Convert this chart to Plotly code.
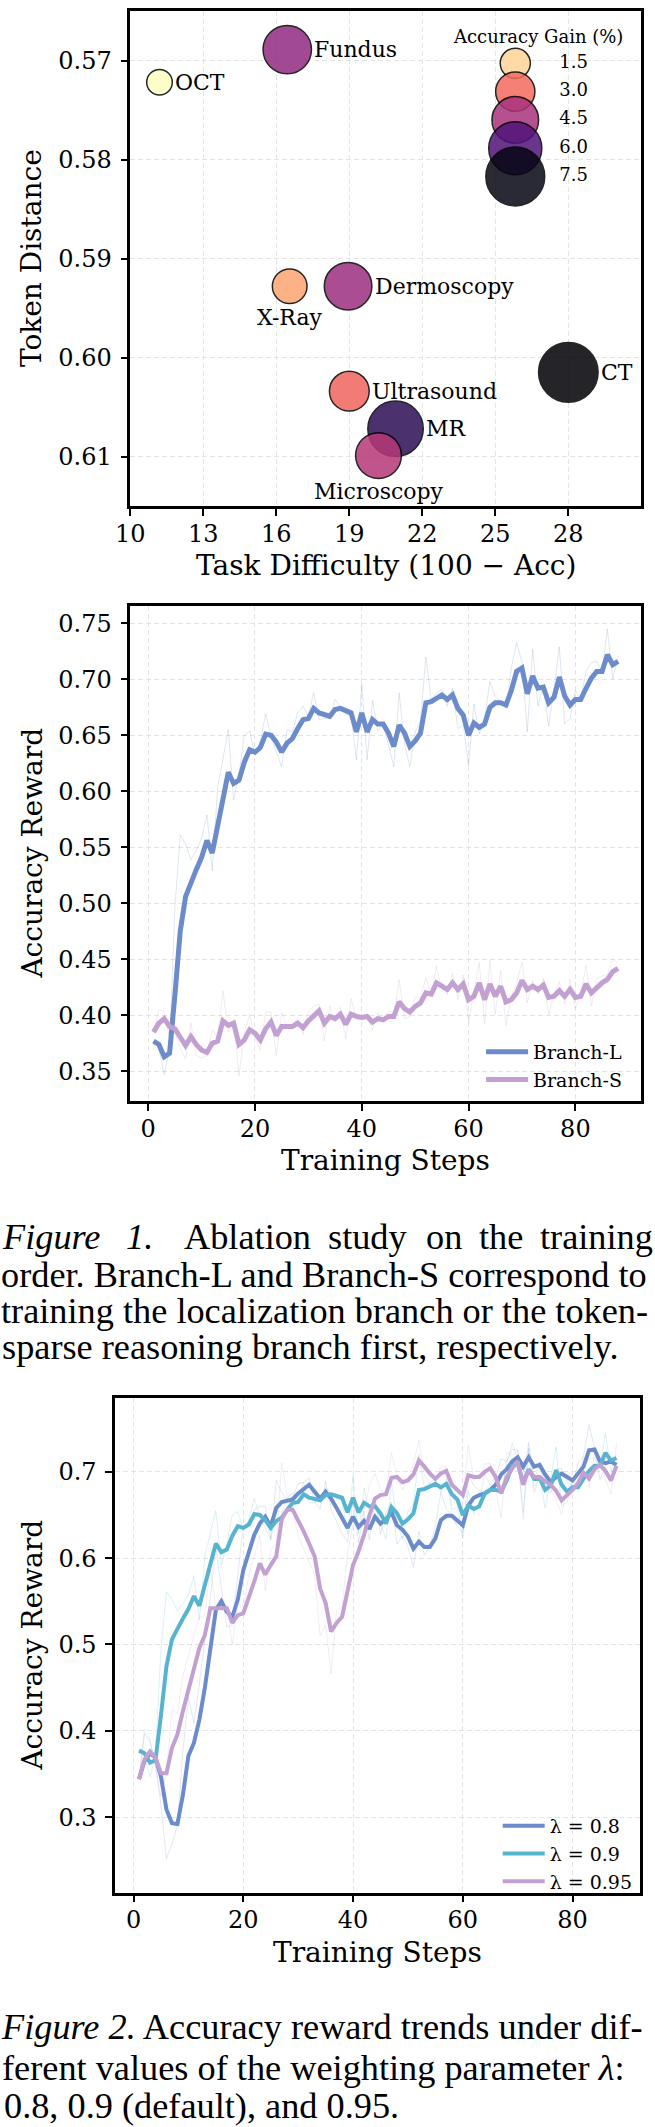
import plotly.graph_objects as go

W, H = 655, 2127

# ---------------- Chart A: modality bubble chart ----------------
modalities = ["OCT", "Fundus", "X-Ray", "Dermoscopy", "CT", "Ultrasound", "MR", "Microscopy"]
task_difficulty = [11.2, 16.45, 16.55, 18.95, 28.0, 19.0, 20.9, 20.2]
token_distance = [0.5722, 0.5689, 0.5928, 0.5928, 0.6015, 0.6034, 0.6072, 0.6099]
accuracy_gain = [0.9, 4.9, 2.2, 4.7, 7.7, 3.1, 6.6, 4.3]
label_side = ["right", "right", "below", "right", "right", "right", "right", "below"]
legend_gain = [1.5, 3.0, 4.5, 6.0, 7.5]
legend_gain_text = ["1.5", "3.0", "4.5", "6.0", "7.5"]
xticks_a = [10, 13, 16, 19, 22, 25, 28]
yticks_a = [0.57, 0.58, 0.59, 0.60, 0.61]
yticks_a_text = ["0.57", "0.58", "0.59", "0.60", "0.61"]

# ---------------- Chart B: training order ablation ----------------
steps = list(range(1, 89))
branch_l_smooth = [0.377, 0.374, 0.363, 0.366, 0.418, 0.475, 0.506, 0.519, 0.530, 0.541,
                   0.556, 0.545, 0.568, 0.592, 0.617, 0.607, 0.610, 0.626, 0.637, 0.635,
                   0.639, 0.651, 0.650, 0.644, 0.635, 0.643, 0.647, 0.656, 0.664, 0.665,
                   0.674, 0.670, 0.668, 0.667, 0.673, 0.674, 0.672, 0.670, 0.653, 0.670,
                   0.653, 0.664, 0.660, 0.660, 0.652, 0.640, 0.659, 0.652, 0.640, 0.645,
                   0.652, 0.679, 0.680, 0.683, 0.686, 0.682, 0.686, 0.674, 0.668, 0.650,
                   0.661, 0.657, 0.660, 0.675, 0.679, 0.679, 0.677, 0.690, 0.707, 0.710,
                   0.687, 0.703, 0.692, 0.693, 0.679, 0.684, 0.702, 0.685, 0.677, 0.682,
                   0.682, 0.692, 0.701, 0.707, 0.707, 0.722, 0.713, 0.716]
branch_l_raw = [0.377, 0.370, 0.347, 0.371, 0.496, 0.561, 0.553, 0.539, 0.547, 0.558,
                0.579, 0.529, 0.603, 0.628, 0.655, 0.592, 0.615, 0.650, 0.654, 0.632,
                0.645, 0.669, 0.649, 0.635, 0.622, 0.655, 0.653, 0.670, 0.676, 0.667,
                0.688, 0.664, 0.665, 0.666, 0.682, 0.676, 0.669, 0.667, 0.628, 0.696,
                0.628, 0.681, 0.654, 0.660, 0.640, 0.622, 0.688, 0.642, 0.622, 0.653,
                0.663, 0.720, 0.682, 0.688, 0.691, 0.676, 0.692, 0.656, 0.659, 0.623,
                0.678, 0.651, 0.665, 0.698, 0.685, 0.679, 0.674, 0.710, 0.733, 0.715,
                0.653, 0.727, 0.676, 0.695, 0.658, 0.692, 0.729, 0.660, 0.665, 0.690,
                0.682, 0.707, 0.715, 0.716, 0.707, 0.745, 0.700, 0.721]
branch_s_smooth = [0.385, 0.393, 0.397, 0.390, 0.388, 0.381, 0.373, 0.381, 0.374, 0.369,
                   0.367, 0.375, 0.377, 0.395, 0.391, 0.393, 0.374, 0.378, 0.387, 0.384,
                   0.378, 0.388, 0.394, 0.382, 0.390, 0.390, 0.390, 0.393, 0.389, 0.395,
                   0.400, 0.404, 0.393, 0.399, 0.397, 0.401, 0.392, 0.401, 0.399, 0.398,
                   0.399, 0.394, 0.397, 0.396, 0.399, 0.399, 0.412, 0.406, 0.403, 0.408,
                   0.411, 0.420, 0.419, 0.429, 0.426, 0.423, 0.429, 0.423, 0.428, 0.414,
                   0.417, 0.429, 0.414, 0.428, 0.417, 0.426, 0.412, 0.414, 0.420, 0.431,
                   0.423, 0.426, 0.423, 0.427, 0.416, 0.417, 0.422, 0.417, 0.423, 0.416,
                   0.417, 0.428, 0.420, 0.425, 0.429, 0.432, 0.439, 0.442]
branch_s_raw = [0.385, 0.405, 0.403, 0.380, 0.385, 0.371, 0.361, 0.393, 0.364, 0.362,
                0.364, 0.387, 0.380, 0.422, 0.385, 0.396, 0.346, 0.384, 0.401, 0.380,
                0.369, 0.403, 0.403, 0.364, 0.402, 0.390, 0.390, 0.398, 0.383, 0.404,
                0.408, 0.410, 0.377, 0.408, 0.394, 0.407, 0.379, 0.415, 0.396, 0.397,
                0.401, 0.387, 0.402, 0.395, 0.404, 0.399, 0.432, 0.397, 0.399, 0.416,
                0.416, 0.434, 0.418, 0.444, 0.422, 0.419, 0.438, 0.414, 0.436, 0.393,
                0.422, 0.447, 0.392, 0.449, 0.401, 0.440, 0.391, 0.417, 0.429, 0.448,
                0.411, 0.431, 0.419, 0.433, 0.400, 0.419, 0.430, 0.410, 0.432, 0.406,
                0.419, 0.445, 0.408, 0.433, 0.435, 0.437, 0.450, 0.447]
xticks_b = [0, 20, 40, 60, 80]
yticks_b = [0.35, 0.40, 0.45, 0.50, 0.55, 0.60, 0.65, 0.70, 0.75]
yticks_b_text = ["0.35", "0.40", "0.45", "0.50", "0.55", "0.60", "0.65", "0.70", "0.75"]

# ---------------- Chart C: lambda sweep ----------------
lam08_smooth = [0.344, 0.365, 0.374, 0.369, 0.347, 0.309, 0.293, 0.292, 0.326, 0.371,
                0.386, 0.413, 0.450, 0.492, 0.540, 0.550, 0.538, 0.532, 0.552, 0.586,
                0.608, 0.627, 0.640, 0.648, 0.637, 0.658, 0.665, 0.666, 0.668, 0.675,
                0.680, 0.685, 0.677, 0.669, 0.677, 0.669, 0.658, 0.646, 0.635, 0.648,
                0.636, 0.643, 0.634, 0.648, 0.640, 0.645, 0.653, 0.638, 0.633, 0.625,
                0.611, 0.619, 0.613, 0.613, 0.623, 0.644, 0.649, 0.649, 0.644, 0.638,
                0.661, 0.670, 0.673, 0.675, 0.679, 0.685, 0.697, 0.703, 0.712, 0.717,
                0.706, 0.717, 0.706, 0.708, 0.697, 0.688, 0.694, 0.698, 0.694, 0.690,
                0.698, 0.706, 0.725, 0.726, 0.712, 0.710, 0.712, 0.708]
lam08_raw = [0.344, 0.397, 0.388, 0.362, 0.314, 0.252, 0.269, 0.291, 0.377, 0.439,
             0.409, 0.454, 0.506, 0.555, 0.612, 0.565, 0.520, 0.523, 0.582, 0.637,
             0.641, 0.656, 0.660, 0.660, 0.621, 0.690, 0.676, 0.668, 0.671, 0.686,
             0.688, 0.693, 0.665, 0.657, 0.689, 0.657, 0.642, 0.628, 0.619, 0.668,
             0.618, 0.654, 0.621, 0.669, 0.628, 0.653, 0.665, 0.616, 0.626, 0.613,
             0.590, 0.631, 0.604, 0.613, 0.638, 0.676, 0.657, 0.649, 0.637, 0.629,
             0.696, 0.684, 0.678, 0.678, 0.685, 0.694, 0.715, 0.712, 0.726, 0.725,
             0.690, 0.734, 0.690, 0.711, 0.681, 0.675, 0.703, 0.704, 0.688, 0.684,
             0.710, 0.718, 0.754, 0.728, 0.691, 0.707, 0.715, 0.702]
# lambda = 0.9 is the default run (same curve as Branch-L)
lam09_smooth = list(branch_l_smooth)
lam09_raw = list(branch_l_raw)
lam095_smooth = [0.344, 0.367, 0.376, 0.369, 0.351, 0.351, 0.380, 0.396, 0.423, 0.448,
                 0.473, 0.496, 0.511, 0.542, 0.542, 0.542, 0.542, 0.525, 0.534, 0.536,
                 0.554, 0.573, 0.594, 0.581, 0.592, 0.602, 0.645, 0.656, 0.656, 0.644,
                 0.631, 0.617, 0.602, 0.565, 0.548, 0.515, 0.525, 0.532, 0.561, 0.592,
                 0.608, 0.627, 0.650, 0.669, 0.673, 0.674, 0.693, 0.694, 0.688, 0.690,
                 0.697, 0.713, 0.706, 0.698, 0.692, 0.698, 0.701, 0.685, 0.679, 0.673,
                 0.696, 0.694, 0.694, 0.700, 0.704, 0.694, 0.675, 0.694, 0.704, 0.712,
                 0.685, 0.702, 0.694, 0.694, 0.689, 0.685, 0.678, 0.667, 0.673, 0.679,
                 0.687, 0.699, 0.692, 0.703, 0.708, 0.701, 0.690, 0.707]
lam095_raw = [0.344, 0.402, 0.390, 0.359, 0.324, 0.351, 0.424, 0.420, 0.464, 0.486,
              0.511, 0.531, 0.534, 0.589, 0.542, 0.542, 0.542, 0.500, 0.548, 0.539,
              0.581, 0.602, 0.626, 0.562, 0.609, 0.617, 0.710, 0.673, 0.656, 0.626,
              0.612, 0.596, 0.580, 0.510, 0.523, 0.466, 0.540, 0.543, 0.605, 0.639,
              0.632, 0.656, 0.685, 0.698, 0.679, 0.676, 0.722, 0.696, 0.679, 0.693,
              0.708, 0.737, 0.696, 0.686, 0.683, 0.707, 0.706, 0.661, 0.670, 0.664,
              0.731, 0.691, 0.694, 0.709, 0.710, 0.679, 0.647, 0.723, 0.719, 0.724,
              0.645, 0.728, 0.682, 0.694, 0.682, 0.679, 0.668, 0.651, 0.682, 0.688,
              0.699, 0.717, 0.682, 0.720, 0.716, 0.691, 0.674, 0.733]
yticks_c = [0.3, 0.4, 0.5, 0.6, 0.7]
yticks_c_text = ["0.3", "0.4", "0.5", "0.6", "0.7"]

# ---------------- styles ----------------
SERIF = "DejaVu Serif"
TIMES = "Liberation Serif"
CAP = 36.3
BLUE = (107, 139, 203)
CYAN = (86, 180, 207)
LAV = (195, 160, 210)


def rgba(c, a):
    return "rgba(%d,%d,%d,%.2f)" % (c[0], c[1], c[2], a)


def bubble_size(g):
    return (440.0 * g + 340.0) ** 0.5 - 1.5


def px_x(x):
    return x / W


def px_y(y):
    return 1 - y / H


cmin, cmax = min(accuracy_gain), max(accuracy_gain)

fig = go.Figure()

# Chart A bubbles
fig.add_trace(go.Scatter(
    x=task_difficulty, y=token_distance, mode="markers",
    marker=dict(size=[bubble_size(g) for g in accuracy_gain], color=accuracy_gain,
                colorscale="Magma", reversescale=True, cmin=cmin, cmax=cmax,
                opacity=0.85, line=dict(color="black", width=1.5)),
    showlegend=False, xaxis="x", yaxis="y", cliponaxis=False))

# Chart A size legend (drawn on an overlay pixel-space axis)
leg_x = [394] * len(legend_gain)
leg_y = [52.3 + 28.3 * i for i in range(len(legend_gain))]
fig.add_trace(go.Scatter(
    x=leg_x, y=leg_y, mode="markers",
    marker=dict(size=[bubble_size(g) for g in legend_gain], color=legend_gain,
                colorscale="Magma", reversescale=True, cmin=cmin, cmax=cmax,
                opacity=0.85, line=dict(color="black", width=1.5)),
    showlegend=False, xaxis="x4", yaxis="y4", hoverinfo="skip", cliponaxis=False))
fig.add_trace(go.Scatter(
    x=[439] * len(legend_gain), y=leg_y, mode="text", text=legend_gain_text,
    textposition="middle right", textfont=dict(family=SERIF, size=18, color="black"),
    showlegend=False, xaxis="x4", yaxis="y4", hoverinfo="skip", cliponaxis=False))

# Chart B
for raw, smooth, col, name in [(branch_l_raw, branch_l_smooth, BLUE, "Branch-L"),
                               (branch_s_raw, branch_s_smooth, LAV, "Branch-S")]:
    fig.add_trace(go.Scatter(x=steps, y=raw, mode="lines",
                             line=dict(color=rgba(col, 0.22), width=1),
                             showlegend=False, xaxis="x2", yaxis="y2"))
    fig.add_trace(go.Scatter(x=steps, y=smooth, mode="lines", name=name,
                             line=dict(color=rgba(col, 1), width=5),
                             legend="legend", xaxis="x2", yaxis="y2"))

# Chart C
for raw, smooth, col, name in [(lam08_raw, lam08_smooth, BLUE, "λ = 0.8"),
                               (lam09_raw, lam09_smooth, CYAN, "λ = 0.9"),
                               (lam095_raw, lam095_smooth, LAV, "λ = 0.95")]:
    fig.add_trace(go.Scatter(x=steps, y=raw, mode="lines",
                             line=dict(color=rgba(col, 0.2), width=1),
                             showlegend=False, xaxis="x3", yaxis="y3"))
    fig.add_trace(go.Scatter(x=steps, y=smooth, mode="lines", name=name,
                             line=dict(color=rgba(col, 1), width=4),
                             legend="legend2", xaxis="x3", yaxis="y3"))

axis_common = dict(showline=True, linecolor="black", linewidth=2.5, mirror=True,
                   ticks="outside", ticklen=7, tickwidth=2, tickcolor="black",
                   showgrid=True, gridcolor="#e4e4e4", gridwidth=1, griddash="5px,3px",
                   zeroline=False,
                   tickfont=dict(family=SERIF, size=24, color="black"))
xcommon = dict(axis_common, ticklabelstandoff=-3)
ycommon = dict(axis_common, ticklabelstandoff=4)

dom_x_ab = [px_x(118), px_x(641)]
dom_x_c = [px_x(102.5), px_x(640)]

fig.update_layout(
    width=W, height=H, margin=dict(l=0, r=0, t=0, b=0),
    paper_bgcolor="white", plot_bgcolor="white",
    xaxis=dict(xcommon, domain=dom_x_ab, range=[10, 31], tickvals=xticks_a, anchor="y"),
    yaxis=dict(ycommon, domain=[px_y(506), px_y(11)], range=[0.615, 0.565],
               tickvals=yticks_a, ticktext=yticks_a_text, anchor="x"),
    xaxis4=dict(overlaying="x", range=[0, 523], visible=False, anchor="y4"),
    yaxis4=dict(overlaying="y", range=[495, 0], visible=False, anchor="x4"),
    xaxis2=dict(xcommon, domain=dom_x_ab, range=[-3.35, 92.35], tickvals=xticks_b, anchor="y2"),
    yaxis2=dict(ycommon, domain=[px_y(1101), px_y(605.7)], range=[0.3235, 0.7657],
                tickvals=yticks_b, ticktext=yticks_b_text, anchor="x2"),
    xaxis3=dict(xcommon, domain=dom_x_c, range=[-3.35, 92.35], tickvals=xticks_b, anchor="y3"),
    yaxis3=dict(ycommon, domain=[px_y(1892.7), px_y(1398)], range=[0.2125, 0.7855],
                tickvals=yticks_c, ticktext=yticks_c_text, anchor="x3"),
    legend=dict(x=px_x(477), y=px_y(1033), xanchor="left", yanchor="top",
                bgcolor="rgba(0,0,0,0)", font=dict(family=SERIF, size=19, color="black"),
                itemwidth=42, tracegroupgap=0),
    legend2=dict(x=px_x(494), y=px_y(1807), xanchor="left", yanchor="top",
                 bgcolor="rgba(0,0,0,0)", font=dict(family=SERIF, size=19, color="black"),
                 itemwidth=42, tracegroupgap=0),
    showlegend=True,
)

ann = []

# bubble labels (data-anchored, offset by the bubble radius)
for name, xv, yv, g, side in zip(modalities, task_difficulty, token_distance, accuracy_gain, label_side):
    r = bubble_size(g) / 2
    if side == "right":
        ann.append(dict(x=xv, y=yv, xref="x", yref="y", text=name, showarrow=False,
                        xanchor="left", yanchor="middle", xshift=r + 1,
                        font=dict(family=SERIF, size=22, color="black")))
    else:
        ann.append(dict(x=xv, y=yv, xref="x", yref="y", text=name, showarrow=False,
                        xanchor="center", yanchor="top", yshift=-(r - 1),
                        font=dict(family=SERIF, size=22, color="black")))


def add_text(x, y, text, size, family=SERIF, angle=0, xanchor="center", yanchor="middle"):
    ann.append(dict(x=px_x(x), y=px_y(y), xref="paper", yref="paper", text=text,
                    showarrow=False, textangle=angle, xanchor=xanchor, yanchor=yanchor,
                    font=dict(family=family, size=size, color="black")))


# axis titles
add_text(17, 258.5, "Token Distance", 28, angle=-90)
add_text(379.5, 565, "Task Difficulty (100 \u2212 Acc)", 28)
add_text(17, 853, "Accuracy Reward", 28, angle=-90)
add_text(379.5, 1160, "Training Steps", 28)
add_text(17, 1645, "Accuracy Reward", 28, angle=-90)
add_text(371, 1952, "Training Steps", 28)

# bubble legend title
add_text(535, 37, "Accuracy Gain (%)", 18)

# Figure 1 caption (first line justified word by word)
line1_words = [("<i>Figure</i>", -15, "left"), ("<i>1.</i>", 112, "left"), ("Ablation", 171, "left"),
               ("study", 318, "left"), ("on", 419, "left"), ("the", 473, "left"),
               ("training", 655, "right")]
for w, xw, anc in line1_words:
    add_text(xw, 1237, w, CAP, family=TIMES, xanchor=anc)
# (text, left x, y) -- left x compensates the annotation box slack of long lines
caption_lines = [
    ("order. Branch-L and Branch-S correspond to", -16, 1275),
    ("training the localization branch or the token-", -16, 1311),
    ("sparse reasoning branch first, respectively.", -15, 1347),
    ("<i>Figure 2.</i> Accuracy reward trends under dif-", -16, 2027),
    ("ferent values of the weighting parameter <i>λ</i>:", -15, 2068),
    ("0.8, 0.9 (default), and 0.95.", -13, 2106),
]
for t, xl, yl in caption_lines:
    add_text(xl, yl, t, CAP, family=TIMES, xanchor="left")

fig.update_layout(annotations=ann)

fig.write_html("out.html")
